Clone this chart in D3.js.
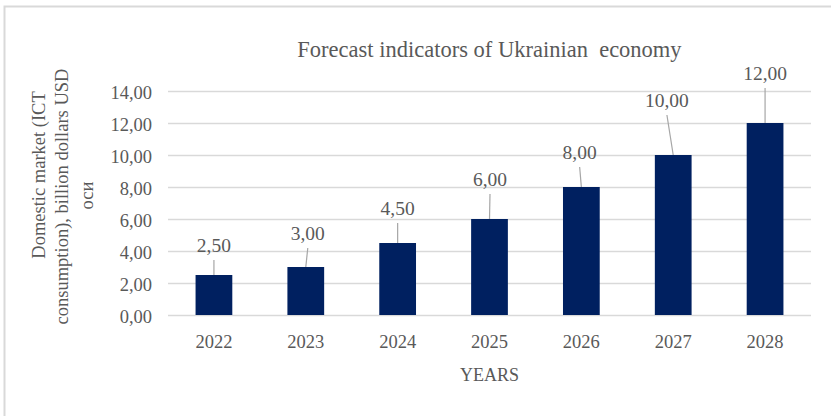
<!DOCTYPE html>
<html>
<head>
<meta charset="utf-8">
<script src="https://cdn.jsdelivr.net/npm/d3@7"></script>
<style>
  html, body { margin: 0; padding: 0; background: #fff; }
  svg { display: block; font-family: "Liberation Serif", "Times New Roman", serif; }
</style>
</head>
<body>
<svg id="chart" width="831" height="416"></svg>
<script>
// Forecast of the domestic ICT market, billion USD
const years = ["2022", "2023", "2024", "2025", "2026", "2027", "2028"];
const values = [2.5, 3.0, 4.5, 6.0, 8.0, 10.0, 12.0];
const yTicks = [0, 2, 4, 6, 8, 10, 12, 14];

const titleText = "Forecast indicators of Ukrainian  economy";
const yTitleLines = ["Domestic market (ICT", "consumption), billion dollars USD", "оси"];
const xTitle = "YEARS";

// data label placement relative to the top centre of each bar (px)
const labelShiftX = [0, 2, 0, 0.5, -1.7, -6.3, 0];
const labelShiftY = [-23, -27, -28, -33, -28, -48, -43];

const svg = d3.select("#chart");
const W = 831, H = 416;
const plot = { left: 168, right: 811, top: 91, bottom: 315 };
const textColor = "#595959";

// chart frame
svg.append("rect")
  .attr("x", 4.5).attr("y", 6.5)
  .attr("width", 900).attr("height", 500)
  .attr("fill", "#fff")
  .attr("stroke", "#d9d9d9")
  .attr("stroke-width", 2);

const locale = d3.formatLocale({ decimal: ",", thousands: " ", grouping: [3], currency: ["", ""] });
const fmt = locale.format(".2f");

const x = d3.scaleBand()
  .domain(years)
  .range([plot.left, plot.right])
  .paddingInner(0.6)
  .paddingOuter(0.3);

const y = d3.scaleLinear()
  .domain([0, 14])
  .range([plot.bottom, plot.top]);

// y axis with gridlines
const yAxis = svg.append("g")
  .attr("transform", `translate(${plot.left},0)`)
  .call(d3.axisLeft(y)
    .tickValues(yTicks)
    .tickFormat(fmt)
    .tickSize(-(plot.right - plot.left))
    .tickPadding(16));
yAxis.select(".domain").remove();
yAxis.selectAll(".tick line")
  .attr("stroke", "#d9d9d9")
  .attr("stroke-width", 1.5);
yAxis.selectAll(".tick text")
  .attr("fill", textColor)
  .attr("font-size", "18.5px")
  .attr("dy", "0.4em")
  .style("font-family", "'Liberation Serif', 'Times New Roman', serif");

// x axis
const xAxis = svg.append("g")
  .attr("transform", `translate(0,${plot.bottom})`)
  .call(d3.axisBottom(x).tickSize(0).tickPadding(20));
xAxis.select(".domain").remove();
xAxis.selectAll(".tick text")
  .attr("fill", textColor)
  .attr("font-size", "18.5px")
  .style("font-family", "'Liberation Serif', 'Times New Roman', serif");

// bars
svg.append("g").selectAll("rect")
  .data(values)
  .join("rect")
  .attr("x", (d, i) => x(years[i]))
  .attr("y", d => y(d))
  .attr("width", x.bandwidth())
  .attr("height", d => y(0) - y(d))
  .attr("fill", "#002060");

// data labels with leader lines
const labels = svg.append("g");
values.forEach((v, i) => {
  const cx = x(years[i]) + x.bandwidth() / 2;
  const top = y(v);
  const lx = cx + labelShiftX[i];
  const ly = top + labelShiftY[i];
  labels.append("line")
    .attr("x1", lx).attr("y1", ly + 8)
    .attr("x2", cx).attr("y2", top)
    .attr("stroke", "#a6a6a6")
    .attr("stroke-width", 1.2);
  labels.append("text")
    .attr("x", lx).attr("y", ly)
    .attr("text-anchor", "middle")
    .attr("fill", textColor)
    .attr("font-size", "19.5px")
    .text(fmt(v));
});

// title
svg.append("text")
  .attr("x", (plot.left + plot.right) / 2)
  .attr("y", 57)
  .attr("text-anchor", "middle")
  .attr("fill", textColor)
  .attr("font-size", "22.5px")
  .style("white-space", "pre")
  .text(titleText);

// x axis title
svg.append("text")
  .attr("x", (plot.left + plot.right) / 2)
  .attr("y", 381)
  .attr("text-anchor", "middle")
  .attr("fill", textColor)
  .attr("font-size", "18px")
  .text(xTitle);

// y axis title (rotated, three lines)
const yTitleBase = [45, 68, 93];
const yTitleCenter = [175, 196.5, 195.5];
yTitleLines.forEach((line, i) => {
  svg.append("text")
    .attr("transform", `translate(${yTitleBase[i]},${yTitleCenter[i]}) rotate(-90)`)
    .attr("text-anchor", "middle")
    .attr("fill", textColor)
    .attr("font-size", "18.5px")
    .text(line);
});
</script>
</body>
</html>
